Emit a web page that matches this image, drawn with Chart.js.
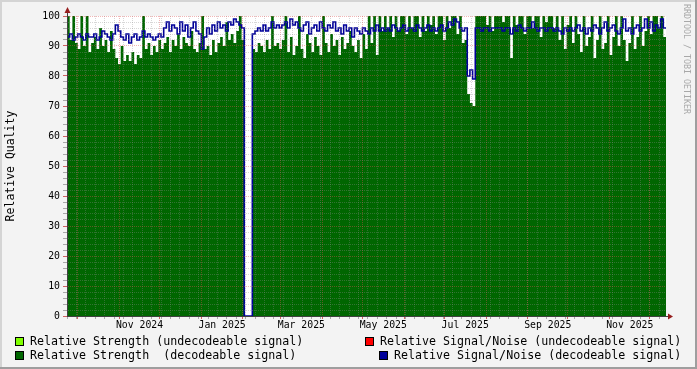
<!DOCTYPE html>
<html><head><meta charset="utf-8">
<script src="https://cdn.jsdelivr.net/npm/chart.js@4/dist/chart.umd.min.js"></script>
<style>
html,body{margin:0;padding:0;background:#f3f3f3;}
#wrap{position:relative;width:697px;height:369px;overflow:hidden;background:#f3f3f3;font-family:"DejaVu Sans Mono",monospace;}
#c{position:absolute;left:0;top:0;}
.edge{position:absolute;pointer-events:none;}
.lg{position:absolute;font-size:11.65px;line-height:14px;white-space:pre;color:#000;}
.box{position:absolute;width:7px;height:7px;border:1px solid #000;}
#wm{position:absolute;left:682px;top:4px;font-size:8.3px;line-height:10px;color:#a8a8a8;writing-mode:vertical-rl;white-space:pre;}
</style></head>
<body>
<div id="wrap">
<canvas id="c" width="697" height="369"></canvas>
<div id="legend"></div>
<div id="wm">RRDTOOL / TOBI OETIKER</div>
<div class="edge" style="left:0;top:0;width:697px;height:2px;background:#d4d4d4"></div>
<div class="edge" style="left:0;top:0;width:2px;height:369px;background:#d4d4d4"></div>
<div class="edge" style="left:695px;top:0;width:2px;height:369px;background:#9e9e9e"></div>
<div class="edge" style="left:0;top:367px;width:697px;height:2px;background:#9e9e9e"></div>
</div>
<script>
// ---- data (one sample every 2 days starting 2024-09-23) ----
const startDate = Date.UTC(2024, 8, 23);
const stepDays = 2;
const monthNames = ['Jan','Feb','Mar','Apr','May','Jun','Jul','Aug','Sep','Oct','Nov','Dec'];
const yTickValues = [0,10,20,30,40,50,60,70,80,90,100];

const strengthUndecodeable = [];
const snrUndecodeable = [];

const strengthDecodeable = [
 100,92,100,91,
 89,100,90,100,88,
 91,93,89,96,90,92,88,95,89,
 86,84,90,85,87,
 85,88,84,87,86,100,
 89,91,87,90,88,92,89,91,93,88,
 92,90,94,89,93,91,90,95,89,
 88,91,100,89,90,87,92,88,91,
 93,90,98,92,94,91,95,100,92,
 0,0,0,
 89,88,91,90,88,92,89,100,90,91,89,
 92,100,88,93,87,90,100,89,86,94,91,88,93,90,87,100,
 91,88,94,90,92,87,93,89,91,95,90,88,92,86,94,89,
 100,91,100,87,100,95,
 100,96,100,93,100,95,100,100,94,100,96,100,100,93,100,95,100,97,100,94,100,
 100,92,100,96,100,100,94,100,91,
 92,74,71,70,
 100,100,100,100,97,100,95,100,100,100,98,100,100,
 86,
 100,97,100,100,94,100,100,96,100,100,93,100,98,100,100,
 96,100,92,100,89,97,100,91,100,94,88,100,90,93,100,86,92,100,89,91,100,87,93,100,90,
 100,92,85,91,100,89,93,100,90,
 95,100,94,100,100,96,100,93
];

const snrDecodeable = [
 93,94,92,93,
 94,93,92,94,93,
 93,94,92,93,95,94,93,92,94,
 97,95,93,92,94,
 91,93,94,92,93,95,
 93,94,93,92,93,94,93,96,98,95,
 97,96,94,98,95,97,93,96,98,
 95,94,89,93,96,94,97,95,98,
 96,97,95,98,97,99,98,97,96,
 0,0,0,
 94,95,96,95,97,95,96,98,96,97,96,
 97,98,96,99,97,98,96,95,97,98,94,96,97,95,98,96,
 95,97,96,98,95,96,94,97,95,96,93,96,95,94,96,95,
 94,96,95,97,95,96,
 95,96,95,97,96,95,96,97,95,96,96,95,97,96,95,96,97,95,96,95,96,
 97,95,96,98,97,99,98,96,95,
 96,80,82,79,
 96,96,95,96,96,95,96,96,96,96,95,96,96,
 94,
 96,95,97,96,95,96,96,98,96,95,96,96,95,96,96,
 95,96,95,94,96,95,96,95,96,97,95,96,94,96,95,97,96,94,96,98,95,96,97,95,94,
 96,99,95,96,94,96,97,95,96,
 99,96,98,95,97,96,99,96
];

// ---- helpers ----
const DAY = 86400000;
const totalDays = strengthDecodeable.length * stepDays;
const FONT = '"DejaVu Sans Mono", monospace';
const MINOR = 'rgba(140,140,140,0.35)';
const MAJOR = 'rgba(222,80,80,0.42)';

function toPoints(arr){
  const pts = arr.map((v,i)=>({x:i*stepDays, y:v}));
  if (arr.length) pts.push({x:arr.length*stepDays, y:arr[arr.length-1]});
  return pts;
}

function buildXTicks(min, max){
  const t = [];
  for (let d = min; d <= max; d += 7) t.push({value:d, kind:'minor', text:''});
  let y = 2024, m = 8;
  while (true){
    const s = (Date.UTC(y,m,1)-startDate)/DAY;
    const e = (Date.UTC(y,m+1,1)-startDate)/DAY;
    if (s > max) break;
    if (s >= min) t.push({value:s, kind:'major', text:''});
    const mid = (s+e)/2;
    if (m % 2 === 0 && mid >= min && mid <= max) t.push({value:mid, kind:'label', text: monthNames[m]+' '+y});
    m++; if (m > 11){ m = 0; y++; }
  }
  t.sort((a,b)=>a.value-b.value);
  return t;
}
function buildYTicks(){
  const t = [];
  for (let v = 0; v <= 100; v += 2) t.push({value:v, kind: yTickValues.includes(v) ? 'major' : 'minor'});
  return t;
}

const bgPlugin = {
  id:'bg',
  beforeDraw(chart){
    const {ctx, chartArea:a} = chart;
    ctx.save(); ctx.fillStyle = '#ffffff';
    ctx.fillRect(a.left, a.top, a.right-a.left, a.bottom-a.top);
    ctx.restore();
  }
};
const arrowPlugin = {
  id:'arrows',
  afterDraw(chart){
    const {ctx, chartArea:a} = chart;
    ctx.save();
    ctx.strokeStyle = '#404040'; ctx.lineWidth = 1;
    ctx.beginPath();
    ctx.moveTo(a.left+0.5, a.top); ctx.lineTo(a.left+0.5, a.top-4);
    ctx.moveTo(a.right, a.bottom+0.5); ctx.lineTo(a.right+3, a.bottom+0.5);
    ctx.stroke();
    ctx.fillStyle = '#961e1e';
    ctx.beginPath();
    ctx.moveTo(a.left+0.5, a.top-9); ctx.lineTo(a.left-2.5, a.top-3); ctx.lineTo(a.left+3.5, a.top-3); ctx.closePath(); ctx.fill();
    ctx.beginPath();
    ctx.moveTo(a.right+7, a.bottom+0.5); ctx.lineTo(a.right+2, a.bottom-2.5); ctx.lineTo(a.right+2, a.bottom+3.5); ctx.closePath(); ctx.fill();
    ctx.restore();
  }
};

const datasets = [
  {label:'Relative Strength (undecodeable signal)', data:toPoints(strengthUndecodeable), borderColor:'#80ff00', backgroundColor:'#80ff00', fill:'origin', borderWidth:0, pointRadius:0, stepped:true, order:3, legendCol:0, legendRow:0},
  {label:'Relative Strength  (decodeable signal)', data:toPoints(strengthDecodeable), borderColor:'#006600', backgroundColor:'#006600', fill:'origin', borderWidth:0, pointRadius:0, stepped:true, order:2, legendCol:0, legendRow:1},
  {label:'Relative Signal/Noise (undecodeable signal)', data:toPoints(snrUndecodeable), borderColor:'#ff0000', backgroundColor:'#ff0000', fill:false, borderWidth:1.6, pointRadius:0, stepped:true, order:1, legendCol:1, legendRow:0},
  {label:'Relative Signal/Noise (decodeable signal)', data:toPoints(snrDecodeable), borderColor:'#000099', backgroundColor:'#000099', fill:false, borderWidth:1.6, pointRadius:0, stepped:true, order:0, legendCol:1, legendRow:1}
];

const chart = new Chart(document.getElementById('c'), {
  type:'line',
  data:{datasets},
  plugins:[bgPlugin, arrowPlugin],
  options:{
    responsive:false, animation:false, devicePixelRatio:1,
    layout:{padding:{top:16, right:31, bottom:0, left:0}},
    plugins:{legend:{display:false}, tooltip:{enabled:false}},
    elements:{line:{tension:0}},
    scales:{
      x:{
        type:'linear', min:0, max:totalDays, offset:false,
        afterBuildTicks: s => { s.ticks = buildXTicks(0, totalDays); },
        afterFit: s => { s.height = 53; },
        ticks:{autoSkip:false, maxRotation:0, minRotation:0, padding:1, color:'#000', font:{family:FONT, size:9.8},
          callback:(v,i,t)=> (t[i] && t[i].text) || ''},
        grid:{z:1, lineWidth:1, tickLength:3,
          color: c => c.tick ? (c.tick.kind==='major' ? MAJOR : c.tick.kind==='minor' ? MINOR : 'rgba(0,0,0,0)') : MINOR,
          tickColor: c => c.tick ? (c.tick.kind==='major' ? '#d06060' : c.tick.kind==='minor' ? '#a8a8a8' : 'rgba(0,0,0,0)') : '#a8a8a8'},
        border:{display:true, color:'#404040', width:1, dash:[1,1], z:2}
      },
      y:{
        type:'linear', min:0, max:100,
        afterBuildTicks: s => { s.ticks = buildYTicks(); },
        afterFit: s => { s.width = 67; },
        ticks:{autoSkip:false, padding:3, color:'#000', font:{family:FONT, size:9.8},
          callback:(v)=> yTickValues.includes(v) ? String(v) : ''},
        grid:{z:1, lineWidth:1, tickLength:4,
          color: c => (c.tick && c.tick.kind==='major') ? MAJOR : MINOR,
          tickColor: c => (c.tick && c.tick.kind==='major') ? '#d06060' : '#a8a8a8'},
        border:{display:true, color:'#404040', width:1, dash:[1,1], z:2},
        title:{display:true, text:'Relative Quality', color:'#000', font:{family:FONT, size:11.5}, padding:{top:4, bottom:0}}
      }
    }
  }
});

// HTML legend built from the datasets
const legendPos = [
  [{box:[15,337], text:[30,334]}, {box:[15,351], text:[30,348]}],
  [{box:[365,337], text:[380,334]}, {box:[379,351], text:[394,348]}]
];
const lg = document.getElementById('legend');
chart.data.datasets.forEach(ds => {
  const p = legendPos[ds.legendCol][ds.legendRow];
  const b = document.createElement('div');
  b.className = 'box'; b.style.left = p.box[0]+'px'; b.style.top = p.box[1]+'px'; b.style.background = ds.backgroundColor;
  const t = document.createElement('div');
  t.className = 'lg'; t.style.left = p.text[0]+'px'; t.style.top = p.text[1]+'px'; t.textContent = ds.label;
  lg.appendChild(b); lg.appendChild(t);
});
</script>
</body></html>
